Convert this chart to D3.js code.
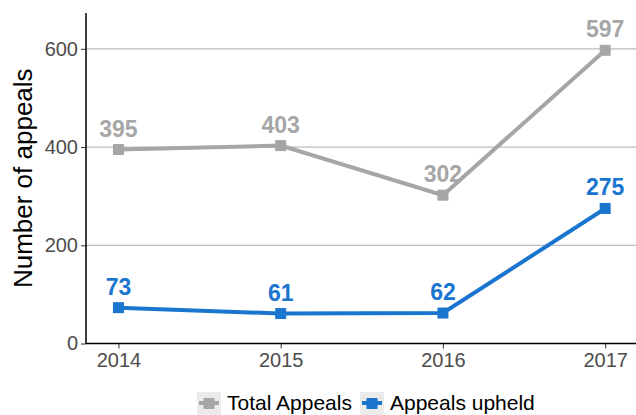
<!DOCTYPE html>
<html>
<head>
<meta charset="utf-8">
<script src="https://cdn.jsdelivr.net/npm/d3@7"></script>
<style>
  body { margin: 0; background: #fff; }
  text { font-family: "Liberation Sans", Arial, sans-serif; }
</style>
</head>
<body>
<svg id="chart" width="636" height="415"></svg>
<script>
const years = [2014, 2015, 2016, 2017];
const totalAppeals = [395, 403, 302, 597];
const appealsUpheld = [73, 61, 62, 275];
const yTicks = [0, 200, 400, 600];
const seriesNames = ["Total Appeals", "Appeals upheld"];
const seriesColors = ["#a6a6a6", "#1a75cf"];

const svg = d3.select("#chart");
const plotLeft = 86, plotRight = 636, plotTop = 13, plotBottom = 343.5;

const x = d3.scaleLinear().domain([2013.8, 2017.19]).range([plotLeft, plotRight]);
const y = d3.scaleLinear().domain([0, 673]).range([plotBottom, plotTop]);

// grid
svg.append("g").selectAll("line")
    .data(yTicks.filter(d => d > 0))
    .enter().append("line")
    .attr("x1", plotLeft).attr("x2", plotRight)
    .attr("y1", d => y(d)).attr("y2", d => y(d))
    .attr("stroke", "#bdbdbd").attr("stroke-width", 1.2);

// axes
const yAxis = svg.append("g")
    .attr("transform", `translate(${plotLeft},0)`)
    .call(d3.axisLeft(y).tickValues(yTicks).tickSize(5).tickPadding(3));
yAxis.select(".domain").remove();
yAxis.selectAll("line").attr("stroke", "#333");
yAxis.selectAll("text").attr("fill", "#4d4d4d").style("font-size", "20px");

const xAxis = svg.append("g")
    .attr("transform", `translate(0,${plotBottom})`)
    .call(d3.axisBottom(x).tickValues(years).tickFormat(d3.format("d")).tickSize(5).tickPadding(4));
xAxis.select(".domain").remove();
xAxis.selectAll("line").attr("stroke", "#333");
xAxis.selectAll("text").attr("fill", "#4d4d4d").style("font-size", "20px");

svg.append("line").attr("x1", plotLeft).attr("x2", plotLeft).attr("y1", plotTop).attr("y2", plotBottom + 0.5)
    .attr("stroke", "#000").attr("stroke-width", 1.5);
svg.append("line").attr("x1", plotLeft).attr("x2", plotRight).attr("y1", plotBottom).attr("y2", plotBottom)
    .attr("stroke", "#000").attr("stroke-width", 1.5);

svg.append("text")
    .attr("transform", `translate(32,${(plotTop + plotBottom) / 2}) rotate(-90)`)
    .attr("text-anchor", "middle")
    .style("font-size", "26px")
    .attr("fill", "#000")
    .text("Number of appeals");

// series
const series = [totalAppeals, appealsUpheld];
const line = d3.line().x((d, i) => x(years[i])).y(d => y(d));
series.forEach((vals, s) => {
    const g = svg.append("g");
    g.append("path").datum(vals)
        .attr("d", line)
        .attr("fill", "none")
        .attr("stroke", seriesColors[s])
        .attr("stroke-width", 4);
    g.selectAll("rect").data(vals).enter().append("rect")
        .attr("x", (d, i) => x(years[i]) - 5.5)
        .attr("y", d => y(d) - 5.5)
        .attr("width", 11).attr("height", 11)
        .attr("fill", seriesColors[s]);
    g.selectAll("text").data(vals).enter().append("text")
        .attr("x", (d, i) => x(years[i]))
        .attr("y", d => y(d) - 13)
        .attr("text-anchor", "middle")
        .attr("fill", seriesColors[s])
        .style("font-size", "23px")
        .style("font-weight", "bold")
        .text(d => d);
});

// legend
const legendX = [197, 360];
seriesNames.forEach((name, s) => {
    const g = svg.append("g").attr("transform", `translate(${legendX[s]},392)`);
    g.append("rect").attr("width", 24).attr("height", 23).attr("fill", "#ebebeb");
    g.append("line").attr("x1", 2).attr("x2", 22).attr("y1", 11).attr("y2", 11)
        .attr("stroke", seriesColors[s]).attr("stroke-width", 4);
    g.append("rect").attr("x", 6.5).attr("y", 6).attr("width", 11).attr("height", 11)
        .attr("fill", seriesColors[s]);
    g.append("text").attr("x", 30).attr("y", 18)
        .style("font-size", "21px").attr("fill", "#000").text(name);
});
</script>
</body>
</html>
